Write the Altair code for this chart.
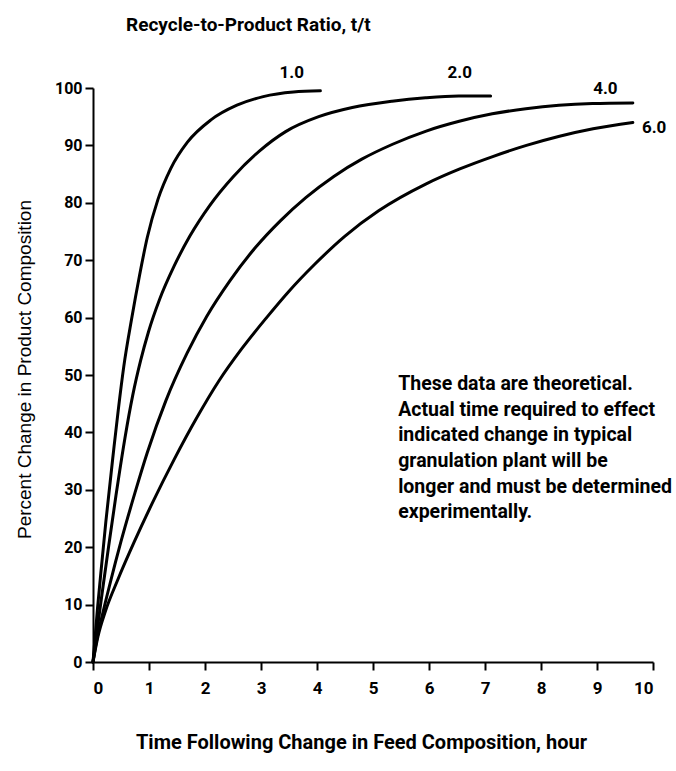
import altair as alt
import pandas as pd

# Time (hour) / percent change readings for each recycle-to-product ratio
t_10 = [0, 0.08, 0.16, 0.23, 0.37, 0.45, 0.55, 0.69, 0.83, 0.97, 1.16, 1.39, 1.69, 2.10, 2.57, 3.04, 3.58, 4.06]
v_10 = [0, 9.3, 17.5, 24.5, 37.0, 43.8, 51.5, 59.8, 67.3, 74.0, 80.6, 86.0, 90.6, 94.4, 97.0, 98.5, 99.3, 99.5]

t_20 = [0, 0.08, 0.17, 0.28, 0.41, 0.57, 0.71, 0.85, 0.99, 1.19, 1.45, 1.73, 2.09, 2.50, 2.97, 3.44, 4.03, 4.63, 5.34, 5.94, 6.53, 7.10]
v_20 = [0, 6.0, 12.5, 20.2, 29.0, 39.0, 46.5, 52.5, 57.5, 63.2, 69.0, 74.2, 79.6, 84.5, 89.0, 92.4, 95.0, 96.6, 97.7, 98.3, 98.6, 98.6]

t_40 = [0, 0.07, 0.15, 0.30, 0.50, 0.75, 0.97, 1.30, 1.68, 2.03, 2.45, 2.90, 3.35, 3.80, 4.30, 4.80, 5.35, 5.95, 6.54, 7.13, 7.73, 8.32, 8.92, 9.64]
v_40 = [0, 4.0, 7.5, 13.5, 21.0, 29.5, 36.5, 45.5, 53.8, 60.2, 66.5, 72.2, 76.9, 80.9, 84.6, 87.6, 90.2, 92.5, 94.2, 95.5, 96.4, 97.0, 97.3, 97.4]

t_60 = [0, 0.09, 0.22, 0.45, 0.74, 1.05, 1.45, 1.85, 2.25, 2.65, 3.10, 3.50, 3.95, 4.50, 5.10, 5.95, 6.55, 7.15, 7.74, 8.33, 8.93, 9.64]
v_60 = [0, 4.5, 8.8, 14.5, 21.0, 27.5, 35.3, 42.5, 49.0, 54.5, 60.0, 64.6, 69.2, 74.2, 78.6, 83.3, 85.9, 88.1, 90.0, 91.6, 92.9, 94.0]

series_names = ["1.0", "2.0", "4.0", "6.0"]

# curve labels
label_text = ["1.0", "2.0", "4.0", "6.0"]
label_t = [3.55, 6.55, 9.15, 10.02]
label_v = [102.6, 102.6, 99.9, 93.1]

x_ticks = list(range(0, 11))
y_ticks = list(range(0, 101, 10))

top_title = "Recycle-to-Product Ratio, t/t"
x_title = "Time Following Change in Feed Composition, hour"
y_title = "Percent Change in Product Composition"

note_lines = [
    "These data are theoretical.",
    "Actual time required to effect",
    "indicated change in typical",
    "granulation plant will be",
    "longer and must be determined",
    "experimentally.",
]
note_t = [5.45]
note_v = [47.4]

BOLD = "Roboto, Liberation Sans, sans-serif"
REG = "Liberation Sans, Roboto, sans-serif"

rows = []
for name, ts, vs in zip(series_names, [t_10, t_20, t_40, t_60], [v_10, v_20, v_40, v_60]):
    for i, (t, v) in enumerate(zip(ts, vs)):
        rows.append({"ratio": name, "t": t, "v": v, "order": i})
curves = pd.DataFrame(rows)
labels = pd.DataFrame({"t": label_t, "v": label_v, "text": label_text})
note = pd.DataFrame({"t": note_t, "v": note_v})
title_df = pd.DataFrame({"text": [top_title]})

x_scale = alt.Scale(domain=[0, 10], nice=False, zero=False)
y_scale = alt.Scale(domain=[0, 100], nice=False, zero=False)

x_axis = alt.Axis(
    values=x_ticks, format="d", grid=False,
    domainColor="black", domainWidth=2, tickColor="black", tickWidth=2, tickSize=8,
    labelFont=BOLD, labelFontSize=17, labelFontWeight="bold", labelColor="black",
    labelPadding=10,
    title=x_title,
    titleFont=BOLD, titleFontSize=20, titleFontWeight="bold", titleColor="black",
    titleX=268, titleY=80, titleAlign="center", titleBaseline="middle",
)
y_axis = alt.Axis(
    values=y_ticks, format="d", grid=False,
    domainColor="black", domainWidth=2, tickColor="black", tickWidth=2, tickSize=8,
    labelFont=BOLD, labelFontSize=16, labelFontWeight="bold", labelColor="black",
    labelPadding=3,
    title=y_title,
    titleFont=REG, titleFontSize=19, titleFontWeight="normal", titleColor="black",
    titleX=-69, titleY=281, titleAngle=270, titleAlign="center", titleBaseline="middle",
)

lines = alt.Chart(curves).mark_line(
    interpolate="monotone", color="black", strokeWidth=3, strokeCap="round"
).encode(
    x=alt.X("t:Q", scale=x_scale, axis=x_axis),
    y=alt.Y("v:Q", scale=y_scale, axis=y_axis),
    detail="ratio:N",
    order="order:Q",
)

label_marks = alt.Chart(labels).mark_text(
    font=BOLD, fontSize=17, fontWeight="bold", color="black",
    align="center", baseline="middle",
).encode(
    x=alt.X("t:Q", scale=x_scale),
    y=alt.Y("v:Q", scale=y_scale),
    text="text:N",
)

note_mark = alt.Chart(note).mark_text(
    font=BOLD, fontSize=19.5, fontWeight="bold", color="black",
    align="left", baseline="alphabetic", lineHeight=25.7, text=note_lines,
).encode(
    x=alt.X("t:Q", scale=x_scale),
    y=alt.Y("v:Q", scale=y_scale),
)

title_mark = alt.Chart(title_df).mark_text(
    font=BOLD, fontSize=19, fontWeight="bold", color="black",
    align="left", baseline="alphabetic",
).encode(
    x=alt.value(33),
    y=alt.value(-57),
    text="text:N",
)

chart = alt.layer(lines, label_marks, note_mark, title_mark).properties(
    width=560,
    height=574,
    autosize=alt.AutoSizeParams(type="none"),
    padding={"left": 93, "top": 88, "right": 23, "bottom": 109},
    background="white",
).configure_view(stroke=None)

chart.save("out.html", embed_options={"renderer": "svg", "actions": False})
